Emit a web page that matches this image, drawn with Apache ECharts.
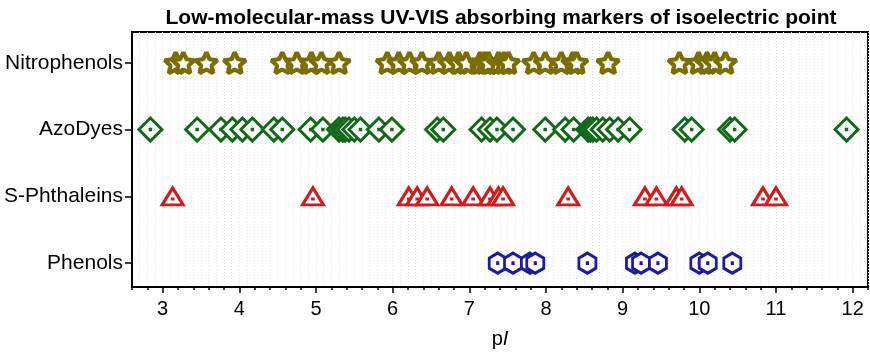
<!DOCTYPE html>
<html>
<head>
<meta charset="utf-8">
<script src="https://cdn.jsdelivr.net/npm/echarts@6/dist/echarts.min.js"></script>
<style>html,body{margin:0;padding:0;background:#fff}#c{width:870px;height:354px}</style>
</head>
<body>
<div id="c"></div>
<script>
// ---- data ----
const categories = ['Phenols', 'S-Phthaleins', 'AzoDyes', 'Nitrophenols'];
const xTickLabels = [3, 4, 5, 6, 7, 8, 9, 10, 11, 12];
const nitrophenols = [3.17, 3.27, 3.57, 3.94, 4.56, 4.75, 4.94, 5.07, 5.30, 5.93, 6.08, 6.22, 6.38, 6.60, 6.74, 6.86, 6.96, 7.14, 7.20, 7.25, 7.38, 7.45, 7.51, 7.84, 7.99, 8.20, 8.35, 8.40, 8.81, 9.74, 9.99, 10.10, 10.20, 10.34];
const azoDyes = [2.84, 3.45, 3.76, 3.91, 4.04, 4.17, 4.45, 4.56, 4.93, 5.09, 5.30, 5.35, 5.38, 5.43, 5.50, 5.58, 5.82, 5.99, 6.58, 6.66, 7.16, 7.27, 7.36, 7.57, 7.99, 8.25, 8.36, 8.55, 8.58, 8.61, 8.66, 8.74, 8.83, 8.94, 9.09, 9.81, 9.90, 10.40, 10.46, 11.92];
const sPhthaleins = [3.13, 4.96, 6.21, 6.32, 6.45, 6.77, 7.05, 7.27, 7.38, 7.44, 8.29, 9.29, 9.44, 9.70, 9.77, 10.83, 11.00];
const phenols = [7.37, 7.57, 7.79, 7.86, 8.54, 9.16, 9.24, 9.46, 10.00, 10.11, 10.43];

// ---- symbols ----
function starPath() {
  let d = '';
  for (let k = 0; k < 10; k++) {
    const r = k % 2 === 0 ? 10 : 4.8;
    const a = (-90 + k * 36) * Math.PI / 180;
    d += (k === 0 ? 'M' : 'L') + (r * Math.cos(a)).toFixed(3) + ',' + (r * Math.sin(a)).toFixed(3);
  }
  return 'path://' + d + 'Z';
}
const dot = (x, y) => `M${x - 0.2},${y - 0.2}L${x + 0.2},${y - 0.2}L${x + 0.2},${y + 0.2}L${x - 0.2},${y + 0.2}Z`;
const diamond = 'path://M0,-10L10,0L0,10L-10,0Z' + dot(0, 0);
const triangle = 'path://M0,-10L11,9L-11,9Z' + dot(0, 2.5);
const hexagon = 'path://M0,-10L8.66,-5L8.66,5L0,10L-8.66,5L-8.66,-5Z' + dot(0, 0);

const FONT = 'Liberation Sans, Arial, sans-serif';
const chart = echarts.init(document.getElementById('c'), null, { renderer: 'canvas' });

function mk(name, vals, row, symbol, size, color, bw, join) {
  return {
    name, type: 'scatter', xAxisIndex: 0, yAxisIndex: 0,
    data: vals.map(v => [v, row]),
    symbol, symbolSize: size,
    itemStyle: { color: '#fff', borderColor: color, borderWidth: bw, borderJoin: join, opacity: 1 },
    emphasis: { disabled: true },
    animation: false
  };
}

chart.setOption({
  animation: false,
  title: {
    text: 'Low-molecular-mass UV-VIS absorbing markers of isoelectric point',
    left: 496, top: 3, textAlign: 'center',
    textStyle: { fontFamily: FONT, fontWeight: 'bold', fontSize: 21, color: '#000' }
  },
  grid: { left: 132, right: 2, top: 32, bottom: 65, show: true, borderColor: '#000', borderWidth: 2, backgroundColor: 'transparent' },
  xAxis: [
    {
      type: 'value', min: 2.6, max: 12.2, position: 'bottom',
      axisLine: { show: true, onZero: false, lineStyle: { color: '#000', width: 2 } },
      axisTick: { show: true, length: 6, lineStyle: { color: '#000', width: 1.5 }, customValues: xTickLabels },
      axisLabel: { show: true, customValues: xTickLabels, color: '#000', fontFamily: FONT, fontSize: 20, margin: 12 },
      splitLine: { show: false },
      name: '{n|p}{i|I}', nameLocation: 'middle', nameGap: 42,
      nameTextStyle: { rich: { n: { fontFamily: FONT, fontSize: 20, color: '#000' }, i: { fontFamily: FONT, fontSize: 20, fontStyle: 'italic', color: '#000' } } }
    },
    {
      type: 'value', min: 2.6, max: 12.2, interval: 0.2, position: 'bottom',
      axisLine: { show: false, onZero: false },
      axisTick: { show: true, length: 3, lineStyle: { color: '#000', width: 1.5 } },
      axisLabel: { show: false }, splitLine: { show: false }
    },
    {
      type: 'value', min: 2.6, max: 12.2, interval: 0.1, position: 'bottom',
      axisLine: { show: false, onZero: false }, axisTick: { show: false }, axisLabel: { show: false },
      splitLine: { show: true, lineStyle: { color: '#e0e0e0', width: 1, type: [1, 2] } }
    }
  ],
  yAxis: [{
    type: 'value', min: 0.643, max: 4.46,
    axisLine: { show: true, onZero: false, lineStyle: { color: '#000', width: 2 } },
    axisTick: { show: true, length: 7, customValues: [1, 2, 3, 4], lineStyle: { color: '#000', width: 1.5 } },
    axisLabel: { show: true, customValues: [1, 2, 3, 4], formatter: v => categories[Math.round(v) - 1] || '', color: '#000', fontFamily: FONT, fontSize: 21, margin: 9 },
    splitLine: { show: false }
  }],
  series: [
    mk('Nitrophenols', nitrophenols, 4, starPath(), [22, 21], '#7a6e00', 4.2, 'bevel'),
    mk('AzoDyes', azoDyes, 3, diamond, [23, 23], '#13691a', 3, 'miter'),
    mk('S-Phthaleins', sPhthaleins, 2, triangle, [21, 17], '#d41a1a', 3, 'miter'),
    mk('Phenols', phenols, 1, hexagon, [17, 20], '#1a1aa6', 3, 'miter')
  ]
});
</script>
</body>
</html>
